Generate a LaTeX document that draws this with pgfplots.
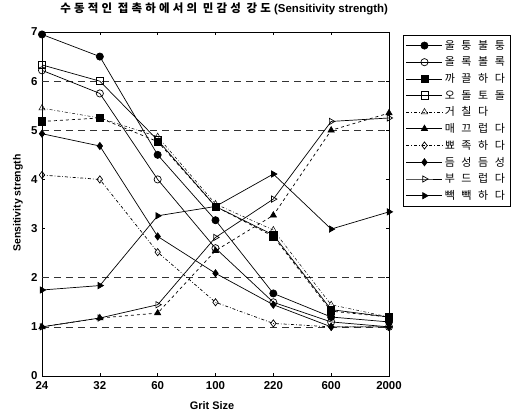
\documentclass[border=0pt]{standalone}
\usepackage{pgfplots}
\pgfplotsset{compat=1.18}
\usepackage{fontspec}
\setmainfont{Liberation Sans}
\newfontfamily\kr{Noto Sans CJK KR}
\newfontfamily\krl[LetterSpace=60]{Noto Sans CJK KR}
\newfontfamily\krt[LetterSpace=28]{Noto Sans CJK KR}
\begin{document}
\begin{tikzpicture}
\useasboundingbox (-42bp,-36bp) rectangle (479bp,376bp);
\begin{axis}[
  scale only axis, width=347bp, height=344bp,
  xmin=0, xmax=6, ymin=0, ymax=7,
  xtick={0,...,6}, xticklabels={24,32,60,100,220,600,2000},
  ytick={0,...,7},
  extra y ticks={1,2,5,6}, extra y tick labels={},
  extra y tick style={ymajorgrids=true, major tick length=0pt},
  major grid style={black!80, line width=0.7bp, dash pattern=on 7bp off 5bp},
  tick align=inside, major tick length=3bp,
  axis line style={line width=0.6bp},
  every tick/.style={black, line width=0.5bp},
  /pgf/number format/assume math mode=true,
  ticklabel style={font=\bfseries\fontsize{11.5}{12}\selectfont},
  xticklabel style={yshift=-2bp},
  yticklabel style={xshift=-1bp},
  title={{\krt\bfseries 수동적인\hspace{0.5em}접촉하에서의\hspace{0.5em}민감성\hspace{0.5em}강도}\textbf{(Sensitivity strength)}},
  title style={at={(axis description cs:0.525,1.049)}, anchor=center, font=\fontsize{11.5}{13}\selectfont},
  xlabel={\textbf{Grit Size}},
  xlabel style={at={(axis description cs:0.49,-0.086)}, anchor=center, font=\fontsize{11}{12}\selectfont},
  ylabel={\textbf{Sensitivity strength}},
  ylabel style={at={(axis description cs:-0.069,0.503)}, anchor=center, font=\fontsize{10.5}{12}\selectfont},
  legend style={at={(axis description cs:1.04,0.991)}, anchor=north west,
    draw=black, line width=0.5bp, font=\krl\fontsize{11}{12}\selectfont,
    row sep=2.2bp, inner sep=3bp, cells={anchor=west}},
  legend image code/.code={\draw[mark repeat=2,mark phase=2,#1] plot coordinates {(0bp,0bp) (18bp,0bp) (36bp,0bp)};},
  every axis plot/.append style={black, line width=0.7bp, mark size=3.6bp},
]
% 울퉁불퉁
\addplot[solid, mark=*, mark options={solid, fill=black}] coordinates {(0,6.95) (1,6.5) (2,4.5) (3,3.17) (4,1.68) (5,1.2) (6,1.1)};
\addlegendentry{울퉁불퉁}
% 올록볼록
\addplot[solid, mark=o, mark options={solid, fill=white}] coordinates {(0,6.22) (1,5.75) (2,4.0) (3,2.6) (4,1.5) (5,1.1) (6,1.0)};
\addlegendentry{올록볼록}
% 까끌하다
\addplot[dashed, mark=square*, mark options={solid, fill=black}, forget plot] coordinates {(0,5.18) (1,5.25) (2,4.77) (3,3.45) (4,2.84) (5,1.32) (6,1.2)};
\addlegendimage{draw=none, mark=square*, mark options={draw=black, fill=black, solid}}
\addlegendentry{까끌하다}
% 오돌토돌
\addplot[solid, mark=square, mark options={solid, fill=white}] coordinates {(0,6.33) (1,6.0) (2,4.8) (3,3.45) (4,2.87) (5,1.35) (6,1.2)};
\addlegendentry{오돌토돌}
% 거칠다
\addplot[dash dot, line width=0.5bp, mark=triangle, mark options={solid, fill=white}] coordinates {(0,5.45) (1,5.25) (2,4.87) (3,3.5) (4,2.97) (5,1.45) (6,1.2)};
\addlegendentry{거칠다}
% 매끄럽다
\addplot[dashed, mark=triangle*, mark options={solid, fill=black}, forget plot] coordinates {(0,1.0) (1,1.18) (2,1.28) (3,2.55) (4,3.27) (5,5.0) (6,5.35)};
\addlegendimage{draw=none, mark=triangle*, mark options={draw=black, fill=black, solid}}
\addlegendentry{매끄럽다}
% 뾰족하다
\addplot[dash dot, mark=diamond, mark options={solid, fill=white}] coordinates {(0,4.09) (1,4.0) (2,2.52) (3,1.5) (4,1.07) (5,1.0) (6,1.0)};
\addlegendentry{뾰족하다}
% 듬성듬성
\addplot[solid, mark=diamond*, mark options={solid, fill=black}] coordinates {(0,4.93) (1,4.68) (2,2.84) (3,2.09) (4,1.45) (5,1.0) (6,1.0)};
\addlegendentry{듬성듬성}
% 부드럽다
\addplot[solid, mark=triangle, mark options={solid, fill=white, rotate=-90}] coordinates {(0,1.0) (1,1.18) (2,1.45) (3,2.82) (4,3.6) (5,5.18) (6,5.25)};
\addlegendentry{부드럽다}
% 빽빽하다
\addplot[solid, mark=triangle*, mark options={solid, fill=black, rotate=-90}] coordinates {(0,1.75) (1,1.84) (2,3.26) (3,3.45) (4,4.11) (5,2.99) (6,3.34)};
\addlegendentry{빽빽하다}
\end{axis}
\end{tikzpicture}
\end{document}
